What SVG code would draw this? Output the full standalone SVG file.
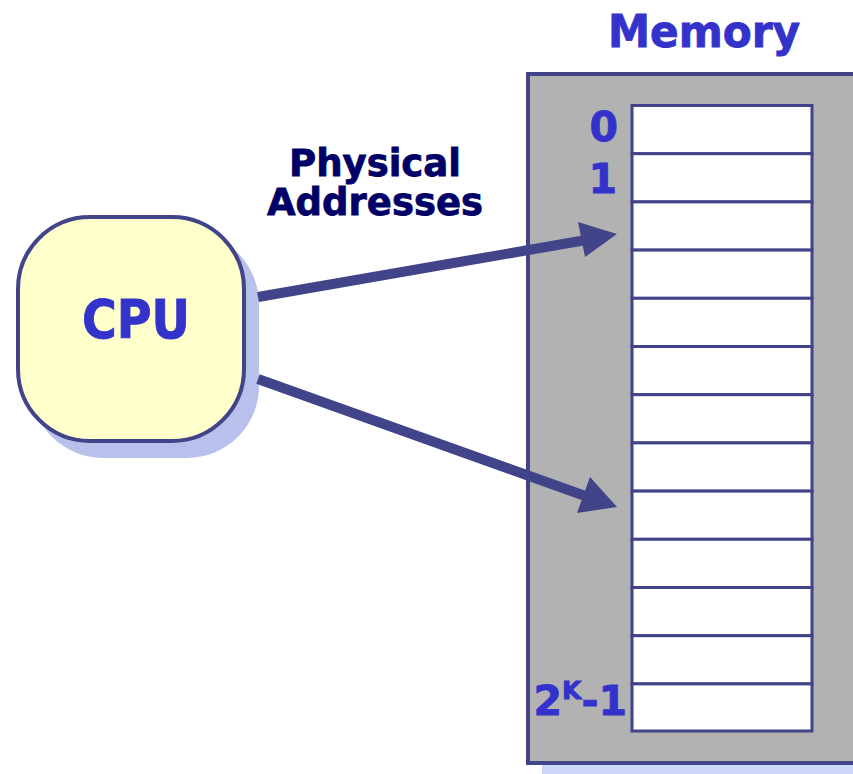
<svg xmlns="http://www.w3.org/2000/svg" width="853" height="774" viewBox="0 0 853 774">
<style>
.stk{stroke:#414488;}
.lbl{font-family:"DejaVu Sans",Verdana,sans-serif;font-weight:bold;fill:#3333cc;stroke:#3333cc;stroke-width:0.9;}
.ttl{font-family:"DejaVu Sans",Verdana,sans-serif;font-weight:bold;fill:#000066;stroke:#000066;stroke-width:0.8;}
.cell{fill:#ffffff;stroke:#414488;stroke-width:3;}
.head{fill:#414488;stroke:none;}
</style>
<rect width="853" height="774" fill="#ffffff"/>
<g id="memory">
<rect x="542" y="88" width="340" height="690" fill="#ccd6f6"/>
<rect x="528" y="74" width="340" height="689" fill="#b2b2b2" class="stk" stroke-width="4"/>
<text class="lbl" x="704" y="47" text-anchor="middle" font-size="45" textLength="192" lengthAdjust="spacingAndGlyphs">Memory</text>
<g id="cells">
<rect class="cell" x="632" y="105.5" width="180" height="48.2"/>
<rect class="cell" x="632" y="153.7" width="180" height="48.2"/>
<rect class="cell" x="632" y="201.9" width="180" height="48.2"/>
<rect class="cell" x="632" y="250.1" width="180" height="48.2"/>
<rect class="cell" x="632" y="298.3" width="180" height="48.2"/>
<rect class="cell" x="632" y="346.5" width="180" height="48.2"/>
<rect class="cell" x="632" y="394.7" width="180" height="48.2"/>
<rect class="cell" x="632" y="442.9" width="180" height="48.2"/>
<rect class="cell" x="632" y="491.1" width="180" height="48.2"/>
<rect class="cell" x="632" y="539.3" width="180" height="48.2"/>
<rect class="cell" x="632" y="587.5" width="180" height="48.2"/>
<rect class="cell" x="632" y="635.7" width="180" height="48.2"/>
<rect class="cell" x="632" y="683.9" width="180" height="47.1"/>
</g>
<text class="lbl" x="618" y="141" text-anchor="end" font-size="41">0</text>
<text class="lbl" x="617" y="193" text-anchor="end" font-size="41">1</text>
<text class="lbl" x="627" y="715" text-anchor="end" font-size="41">2<tspan font-size="25" dy="-16">K</tspan><tspan dy="16">-1</tspan></text>
</g>
<g id="cpu">
<rect x="31" y="232" width="228" height="226" rx="72" fill="#b8c0ec"/>
<rect x="18" y="217" width="226" height="224" rx="72" fill="#ffffcc" class="stk" stroke-width="4"/>
<text class="lbl" x="136" y="338" text-anchor="middle" font-size="53" textLength="108" lengthAdjust="spacingAndGlyphs">CPU</text>
</g>
<g id="label">
<text class="ttl" x="375" y="176" text-anchor="middle" font-size="37" textLength="172" lengthAdjust="spacingAndGlyphs">Physical</text>
<text class="ttl" x="375" y="215" text-anchor="middle" font-size="37" textLength="216" lengthAdjust="spacingAndGlyphs">Addresses</text>
</g>
<g id="connectors">
<line class="stk" x1="258" y1="297" x2="586" y2="240" stroke-width="10"/>
<polygon class="head" points="617,234 578,222 585,257"/>
<line class="stk" x1="258" y1="379" x2="588" y2="497" stroke-width="10"/>
<polygon class="head" points="617,507 590,477 577,513"/>
</g>
</svg>
